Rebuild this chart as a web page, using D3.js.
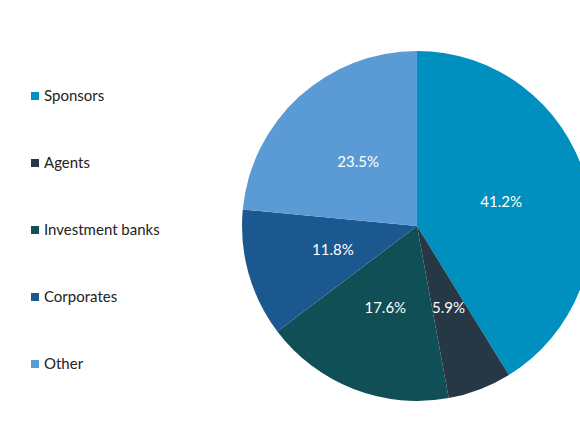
<!DOCTYPE html>
<html>
<head>
<meta charset="utf-8">
<script src="https://cdn.jsdelivr.net/npm/d3@7"></script>
<style>
  body { margin: 0; background: #fff; }
  svg { display: block; font-family: Lato, "Open Sans", sans-serif; }
</style>
</head>
<body>
<svg id="chart" width="580" height="435"></svg>
<script>
var categories = ["Sponsors", "Agents", "Investment banks", "Corporates", "Other"];
var shares = [41.2, 5.9, 17.6, 11.8, 23.5];
var colors = ["#0090c0", "#263746", "#104f55", "#1c5890", "#5b9bd5"];

var svg = d3.select("#chart");
var cx = 417, cy = 226, radius = 175;

var data = categories.map(function (c, i) {
  return { name: c, value: shares[i], color: colors[i] };
});

var pie = d3.pie()
    .sort(null)
    .value(function (d) { return d.value; });

var arc = d3.arc().innerRadius(0).outerRadius(radius);

var g = svg.append("g")
    .attr("transform", "translate(" + cx + "," + cy + ")");

var slices = g.selectAll("g.slice")
    .data(pie(data))
    .enter().append("g")
    .attr("class", "slice");

slices.append("path")
    .attr("d", arc)
    .attr("fill", function (d) { return d.data.color; });

slices.append("text")
    .attr("transform", function (d) { return "translate(" + arc.centroid(d) + ")"; })
    .attr("text-anchor", "middle")
    .attr("dy", "0.35em")
    .attr("fill", "#fff")
    .style("font-size", "15px")
    .text(function (d) { return d.data.value.toFixed(1) + "%"; });

// legend
var legendY = d3.scalePoint()
    .domain(categories)
    .range([96, 364]);

var legend = svg.selectAll("g.legend")
    .data(data)
    .enter().append("g")
    .attr("class", "legend")
    .attr("transform", function (d) { return "translate(31," + legendY(d.name) + ")"; });

legend.append("rect")
    .attr("x", 0)
    .attr("y", -4)
    .attr("width", 8)
    .attr("height", 8)
    .attr("fill", function (d) { return d.color; });

legend.append("text")
    .attr("x", 13)
    .attr("dy", "0.35em")
    .attr("fill", "#222")
    .style("font-size", "15px")
    .text(function (d) { return d.name; });
</script>
</body>
</html>
